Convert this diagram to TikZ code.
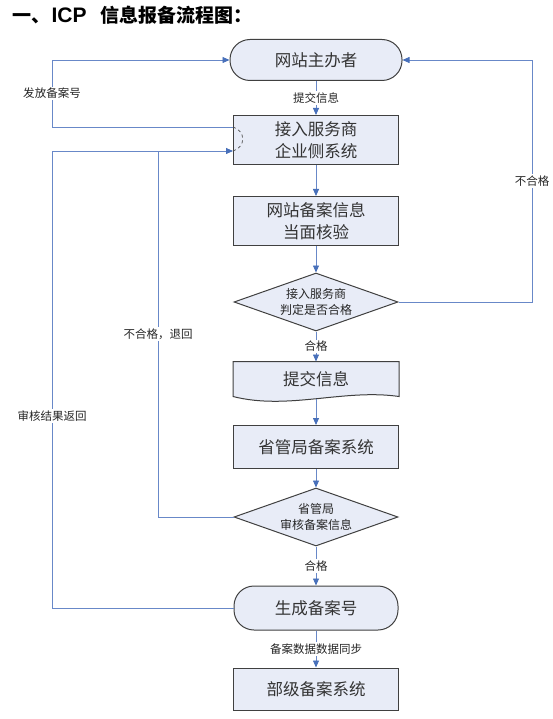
\documentclass[tikz,border=0pt]{standalone}
\usepackage{fontspec}
\setmainfont{Noto Sans CJK SC}
\newfontfamily\titlelatin{Liberation Sans}
\usetikzlibrary{shapes.geometric,arrows.meta,calc,backgrounds}
\definecolor{linkblue}{RGB}{104,136,200}
\definecolor{tipblue}{RGB}{72,112,186}
\definecolor{boxfill}{RGB}{232,236,247}
\definecolor{boxline}{RGB}{64,64,64}

\begin{document}
\begin{tikzpicture}[x=1pt,y=-1pt]

  % Definitions
  \tikzstyle{Terminal} = [rectangle, rounded corners=20pt, minimum width=172pt, minimum height=41pt, text centered, draw=boxline, fill=boxfill, line width=1pt, text=black!80, font=\fontsize{16.5}{22}\selectfont]
  \tikzstyle{Process} = [rectangle, minimum width=165pt, minimum height=49pt, align=center, draw=boxline, fill=boxfill, line width=1pt, text=black!80, font=\fontsize{16.5}{22}\selectfont]
  \tikzstyle{Decision} = [diamond, aspect=2.8, inner sep=0pt, minimum width=164pt, minimum height=58pt, align=center, draw=boxline, fill=boxfill, line width=1pt, text=black!85, font=\fontsize{12}{16}\selectfont]
  \tikzstyle{Label} = [fill=white, inner sep=1.5pt, text=black!85, font=\fontsize{11.5}{12}\selectfont]
  \tikzstyle{line} = [line width=0.8pt, draw=linkblue]
  \tikzstyle{arrow} = [line, ->, >={Triangle[length=7pt,width=6pt,color=tipblue]}]

  \useasboundingbox (0,0) rectangle (552,719);

  \node (Title) [anchor=west, font=\fontsize{19}{19}\selectfont\bfseries] at (9,15) {一、\hspace{1pt}{\titlelatin\fontsize{21}{21}\selectfont ICP}\hspace{14pt}信息报备流程图：};

  \node (Host) [Terminal] at (316,60) {网站主办者};
  \node (Access) [Process, below of=Host, node distance=80pt] {接入服务商\\企业侧系统};
  \node (Verify) [Process, below of=Access, node distance=81pt] {网站备案信息\\当面核验};
  \node (Check1) [Decision, below of=Verify, node distance=81pt] {接入服务商\\判定是否合格};
  \node (Submit) [Process, draw=none, fill=none, minimum height=34pt, below of=Check1, node distance=77pt] {提交信息};
  \node (Prov) [Process, minimum height=43pt, below of=Submit, node distance=68pt] {省管局备案系统};
  \node (Check2) [Decision, below of=Prov, node distance=70pt] {省管局\\审核备案信息};
  \node (Gen) [Terminal, minimum width=164pt, minimum height=44pt, below of=Check2, node distance=91pt] {生成备案号};
  \node (Ministry) [Process, minimum height=42pt, below of=Gen, node distance=81pt] {部级备案系统};

  \begin{scope}[on background layer]
    \draw [draw=boxline, fill=boxfill, line width=1pt] (Submit.south west) -- (Submit.north west) -- (Submit.north east) -- (Submit.south east)
      .. controls ($(Submit.south east)+(-55,-8)$) and ($(Submit.south west)+(55,14)$) .. (Submit.south west) -- cycle;
  \end{scope}

  \coordinate (IssueTurn) at (52,60);
  \coordinate (ReturnTurn) at (52,151);
  \coordinate (RejectJoin) at (158,151);
  \coordinate (FailTurn) at (532,60);

  \draw [arrow] (Host) -- node[Label] {提交信息} (Access);
  \draw [arrow] (Access) -- (Verify);
  \draw [arrow] (Verify) -- (Check1);
  \draw [arrow] (Check1) -- node[Label] {合格} (Submit);
  \draw [arrow] ([yshift=-2pt]Submit.south) -- (Prov);
  \draw [arrow] (Prov) -- (Check2);
  \draw [arrow] (Check2) -- node[Label] {合格} (Gen);
  \draw [arrow] (Gen) -- node[Label] {备案数据数据同步} (Ministry);

  \draw [arrow] ([yshift=13pt]Access.west) -| node[Label, pos=0.75] {发放备案号} (IssueTurn) -- (Host.west);
  \draw [arrow] (Gen.west) -| node[Label, pos=0.71] {审核结果返回} (ReturnTurn) -- ([yshift=-11pt]Access.west);
  \draw [line] (Check2.west) -| node[Label, pos=0.75] {不合格，退回} (RejectJoin);
  \draw [arrow] (Check1.east) -| node[Label, pos=0.75] {不合格} (FailTurn) -- (Host.east);

  \draw [dashed, draw=black!70, line width=0.7pt] ([yshift=13pt]Access.west) .. controls +(13,4) and +(13,-4) .. ([yshift=-11pt]Access.west);

\end{tikzpicture}
\end{document}
